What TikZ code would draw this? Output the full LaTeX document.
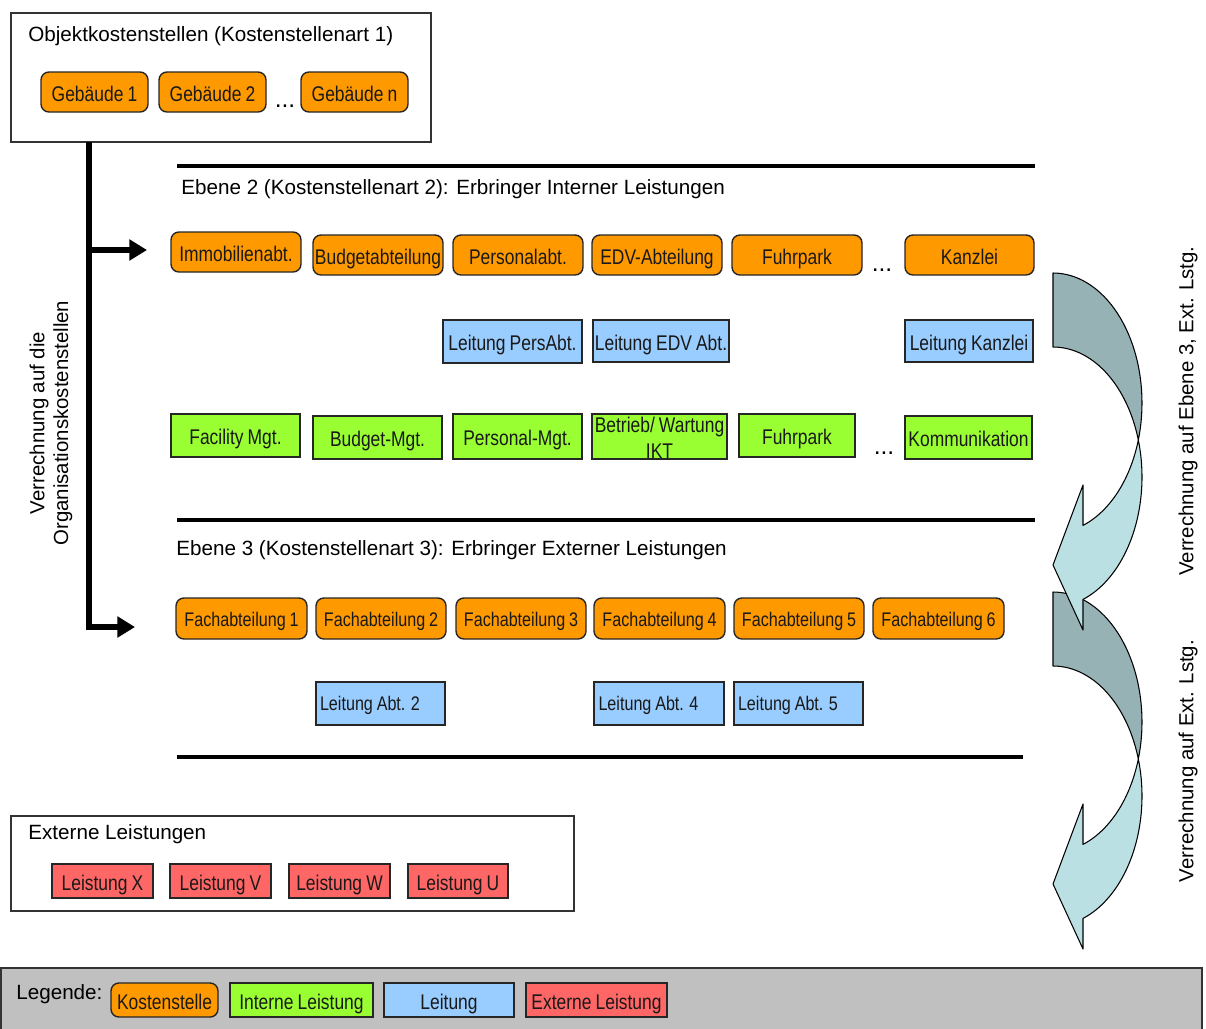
\documentclass[tikz,border=0pt]{standalone}
\usepackage{fontspec}
\setmainfont{Liberation Sans}
\newfontfamily\narrowfont[FakeStretch=0.82,WordSpace=0.85]{Liberation Sans}
\usetikzlibrary{arrows.meta}

\definecolor{kost}{HTML}{FF9900}
\definecolor{intern}{HTML}{99FF33}
\definecolor{leit}{HTML}{99CCFF}
\definecolor{extern}{HTML}{FF6666}
\definecolor{legbg}{HTML}{C0C0C0}
\definecolor{arrdark}{RGB}{150,178,181}
\definecolor{arrlight}{RGB}{187,224,227}

% box placed by its pixel corners: style, name, x1, y1, x2, y2, text
\newcommand\kbox[7]{\node[#1, minimum width={(#5-#3)*0.02cm}, minimum height={(#6-#4)*0.02cm}] (#2) at ({(#3+#5)/2},{(#4+#6)/2}) {#7};}
% left-set label inside a box
\newcommand\lset[1]{\makebox[2.42cm][l]{#1}}

\begin{document}
\begin{tikzpicture}[x=0.02cm, y=-0.02cm,
  base/.style={draw=black!85, line width=0.8pt, inner sep=0pt, outer sep=0pt,
    font=\narrowfont\fontsize{12.1}{14.8}\selectfont, text=black!90,
    text height=12pt, text depth=1.2pt},
  ksb/.style={base, fill=kost, rounded corners=4.5pt},
  ilb/.style={base, fill=intern},
  ltb/.style={base, fill=leit},
  exb/.style={base, fill=extern},
  smaller/.style={font=\narrowfont\fontsize{11.2}{13}\selectfont, text height=10.5pt},
  twoline/.style={align=center, text height=24.5pt, text depth=0pt},
  frame/.style={draw=black!80, line width=1.1pt, fill=white, inner sep=0pt},
  legframe/.style={draw=black!80, line width=0.8pt, fill=legbg, inner sep=0pt},
  head/.style={font=\fontsize{11.75}{14}\selectfont, anchor=base west, inner sep=0pt, text=black},
  dotsty/.style={font=\fontsize{14}{16}\selectfont, anchor=base, inner sep=0pt},
  rot/.style={font=\fontsize{11.6}{13.5}\selectfont, rotate=90, align=center, inner sep=0pt},
  rule/.style={line width=2.3pt},
  trunk/.style={line width=3.4pt, -{Triangle[length=10pt,width=11.5pt]}},
  bandD/.style={fill=arrdark, draw=black, line width=0.6pt, line join=round},
  bandL/.style={fill=arrlight, draw=black, line width=0.6pt, line join=round}
]
\useasboundingbox (0,0) rectangle (1206,1028);

% ---------- Objektkostenstellen ----------
\kbox{frame}{obj}{11}{13}{431}{142}{}
\node[head] (objT) at (28,41) {Objektkostenstellen (Kostenstellenart 1)};
\kbox{ksb}{g1}{41}{72}{148}{112}{Gebäude 1}
\kbox{ksb}{g2}{159}{72}{266}{112}{Gebäude 2}
\node[dotsty] (gdots) at (285,107) {...};
\kbox{ksb}{gn}{301}{72}{408}{112}{Gebäude n}

% ---------- allocation trunk ----------
\coordinate (tTop) at (89,142);
\coordinate (b1) at (89,250);
\coordinate (e1) at (147,250);
\coordinate (e2) at (135,627);
\draw[trunk] (tTop) |- (e2);
\draw[trunk] (b1) -- (e1);
\node[rot] (trunkT) at (51,423) {Verrechnung auf die\\Organisationskostenstellen};

% ---------- level rules ----------
\coordinate (r1a) at (177,166); \coordinate (r1b) at (1035,166);
\coordinate (r2a) at (177,520); \coordinate (r2b) at (1035,520);
\coordinate (r3a) at (177,757); \coordinate (r3b) at (1023,757);
\draw[rule] (r1a) -- (r1b);
\draw[rule] (r2a) -- (r2b);
\draw[rule] (r3a) -- (r3b);

% ---------- Ebene 2 ----------
\node[head] (eb2) at (181,194) {Ebene 2 (Kostenstellenart 2): Erbringer Interner Leistungen};
\kbox{ksb}{k1}{171}{232}{301}{272}{Immobilienabt.}
\kbox{ksb}{k2}{313}{235}{443}{275}{Budgetabteilung}
\kbox{ksb}{k3}{453}{235}{583}{275}{Personalabt.}
\kbox{ksb}{k4}{592}{235}{722}{275}{EDV-Abteilung}
\kbox{ksb}{k5}{732}{235}{862}{275}{Fuhrpark}
\node[dotsty] (kdots) at (882,271) {...};
\kbox{ksb}{k6}{905}{235}{1034}{275}{Kanzlei}

\kbox{ltb}{l3}{443}{320}{582}{363}{Leitung PersAbt.}
\kbox{ltb}{l4}{593}{320}{729}{362}{Leitung EDV Abt.}
\kbox{ltb}{l6}{905}{320}{1033}{362}{Leitung Kanzlei}

\kbox{ilb}{i1}{171}{414}{300}{457}{Facility Mgt.}
\kbox{ilb}{i2}{313}{416}{442}{459}{Budget-Mgt.}
\kbox{ilb}{i3}{453}{414}{582}{459}{Personal-Mgt.}
\kbox{ilb,twoline}{i4}{592}{414}{727}{459}{Betrieb/ Wartung\\IKT}
\kbox{ilb}{i5}{739}{414}{855}{457}{Fuhrpark}
\node[dotsty] (idots) at (884,454) {...};
\kbox{ilb}{i6}{905}{416}{1032}{459}{Kommunikation}

% ---------- Ebene 3 ----------
\node[head] (eb3) at (176,555) {Ebene 3 (Kostenstellenart 3): Erbringer Externer Leistungen};
\kbox{ksb,smaller}{f1}{176}{598}{307}{639}{Fachabteilung 1}
\kbox{ksb,smaller}{f2}{316}{598}{446}{639}{Fachabteilung 2}
\kbox{ksb,smaller}{f3}{456}{598}{586}{639}{Fachabteilung 3}
\kbox{ksb,smaller}{f4}{594}{598}{725}{639}{Fachabteilung 4}
\kbox{ksb,smaller}{f5}{734}{598}{864}{639}{Fachabteilung 5}
\kbox{ksb,smaller}{f6}{873}{598}{1004}{639}{Fachabteilung 6}

\kbox{ltb,smaller,text height=9.2pt}{la2}{316}{682}{445}{725}{\lset{Leitung Abt. 2}}
\kbox{ltb,smaller,text height=9.2pt}{la4}{594}{682}{724}{725}{\lset{Leitung Abt. 4}}
\kbox{ltb,smaller,text height=9.2pt}{la5}{734}{682}{863}{725}{\lset{Leitung Abt. 5}}

% ---------- Externe Leistungen ----------
\kbox{frame}{ext}{11}{816}{574}{911}{}
\node[head] (extT) at (28,839) {Externe Leistungen};
\kbox{exb}{x1}{52}{864}{153}{898}{Leistung X}
\kbox{exb}{x2}{170}{864}{271}{898}{Leistung V}
\kbox{exb}{x3}{289}{864}{390}{898}{Leistung W}
\kbox{exb}{x4}{408}{864}{508}{898}{Leistung U}

% ---------- curved allocation arrows (lower one first) ----------
\foreach \dy in {319, 0}{
  \path[bandD] plot[domain=90:-16.54, samples=40, variable=\t] ({1053+89*cos(\t)},{403+\dy-130*sin(\t)})
     -- plot[domain=16.54:90, samples=40, variable=\t] ({1053+89*cos(\t)},{477+\dy-130*sin(\t)}) -- cycle;
  \path[bandL] plot[domain=16.54:-70.3, samples=40, variable=\t] ({1053+89*cos(\t)},{477+\dy-130*sin(\t)})
     -- (1083,630+\dy) -- (1053,565+\dy) -- (1083,485+\dy)
     -- plot[domain=-70.3:-16.54, samples=40, variable=\t] ({1053+89*cos(\t)},{403+\dy-130*sin(\t)}) -- cycle;
}
\node[rot] (v1) at (1188,411) {Verrechnung auf Ebene 3, Ext. Lstg.};
\node[rot] (v2) at (1188,761) {Verrechnung auf Ext. Lstg.};

% ---------- legend ----------
\kbox{legframe}{leg}{1}{968}{1202}{1036}{}
\node[head] (legT) at (16,999) {Legende:};
\kbox{ksb}{lk}{111}{983}{218}{1017}{Kostenstelle}
\kbox{ilb}{li}{230}{983}{373}{1017}{Interne Leistung}
\kbox{ltb}{ll}{384}{983}{514}{1017}{Leitung}
\kbox{exb}{le}{526}{983}{667}{1017}{Externe Leistung}
\end{tikzpicture}
\end{document}
